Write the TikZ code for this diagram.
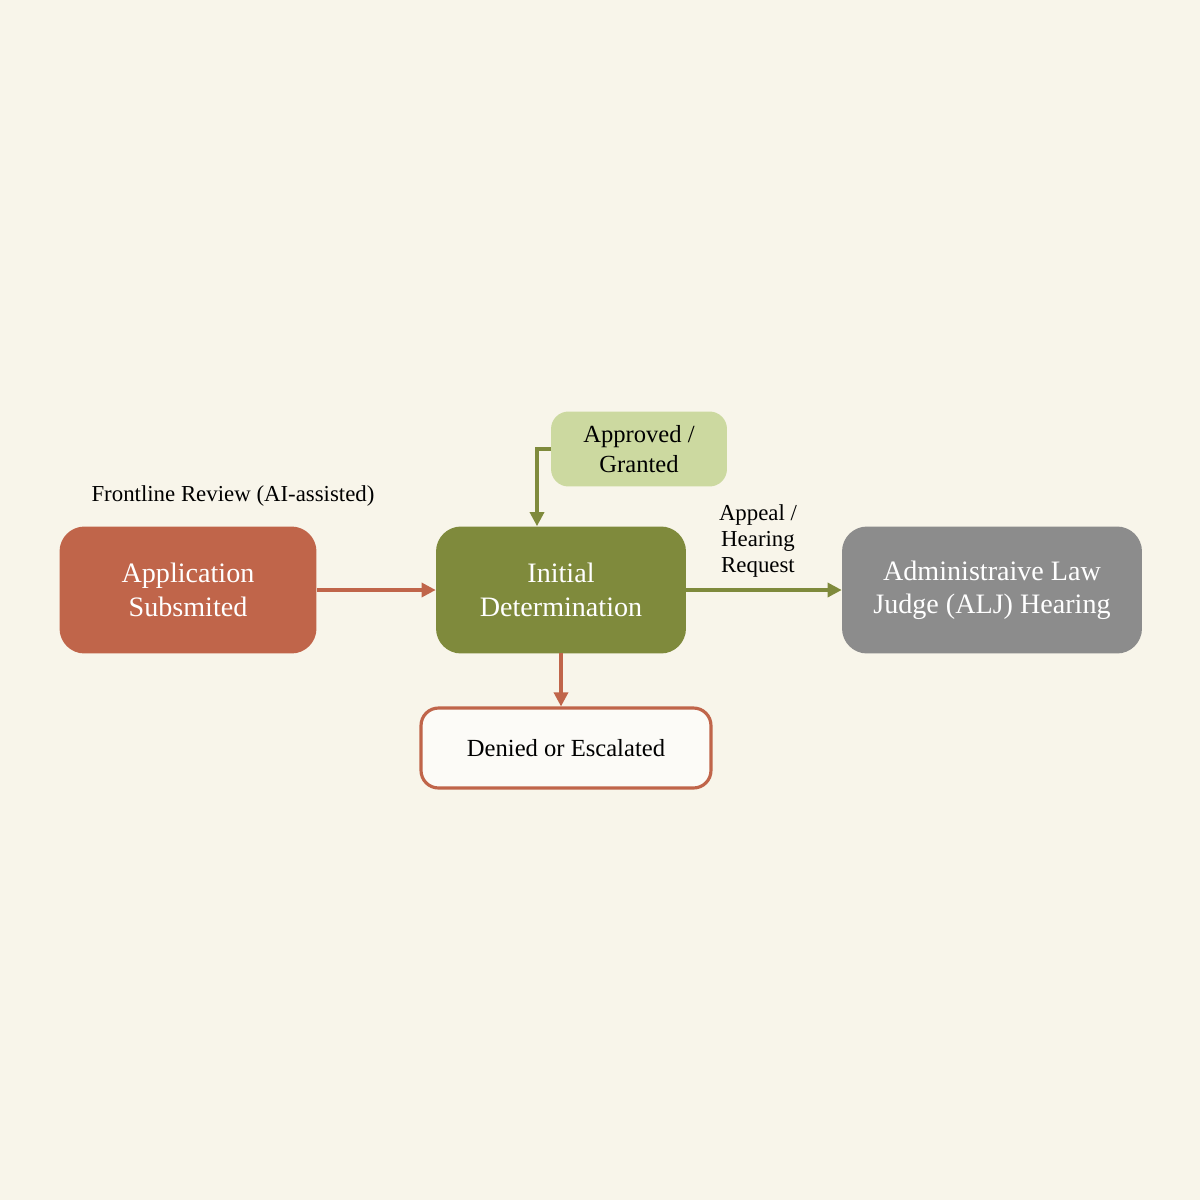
\documentclass[tikz,border=0pt]{standalone}
\usepackage{fontspec}
\setmainfont{Liberation Serif}
\usetikzlibrary{arrows.meta}
\definecolor{bg}{HTML}{F8F5EA}
\definecolor{rust}{HTML}{C0654A}
\definecolor{olive}{HTML}{7F8A3C}
\definecolor{lgreen}{HTML}{CCD9A0}
\definecolor{grayb}{HTML}{8C8C8C}
\tikzset{
 box/.style={rounded corners=0.5cm, minimum width=#1, align=center, font=\fontsize{16}{19}\selectfont, text=white, inner sep=0pt},
 lbl/.style={font=\fontsize{13}{15}\selectfont, align=center, text=black},
 arr/.style={line width=1.8pt, -{Triangle[length=8pt,width=8pt]}}
}
\begin{document}
\begin{tikzpicture}[x=0.02cm,y=-0.02cm]
\fill[bg] (0,0) rectangle (1200,1200);
\useasboundingbox (0,0) rectangle (1200,1200);
\node[box=5.14cm, fill=rust, minimum height=2.54cm] (app) at (188,590) {Application\\Subsmited};
\node[box=5.0cm, fill=olive, minimum height=2.54cm] (init) at (561,590) {Initial\\Determination};
\node[box=3.52cm, fill=lgreen, minimum height=1.5cm, text=black, rounded corners=0.35cm, font=\fontsize{14}{17}\selectfont] (appr) at (639,449) {Approved /\\Granted};
\node[box=6.0cm, fill=grayb, minimum height=2.54cm] (alj) at (992,590) {Administraive Law\\Judge (ALJ) Hearing};
\node[box=5.8cm, fill=white!60!bg, draw=rust, line width=1.8pt, minimum height=1.6cm, rounded corners=0.35cm, text=black, font=\fontsize{14}{17}\selectfont] (den) at (566,748) {Denied or Escalated};
\node[lbl] (front) at (233,496) {Frontline Review (AI-assisted)};
\node[lbl] (appeal) at (758,541) {Appeal /\\Hearing\\Request};
\coordinate (bend) at (537,449);
\coordinate (dtop) at (561,653);
\draw[arr, rust] (app.east) -- (init.west);
\draw[arr, olive] (appr.west) -- (bend) -- (bend |- init.north);
\draw[arr, olive] (init.east) -- (alj.west);
\draw[arr, rust] (dtop) -- (dtop |- den.north);
\end{tikzpicture}
\end{document}
